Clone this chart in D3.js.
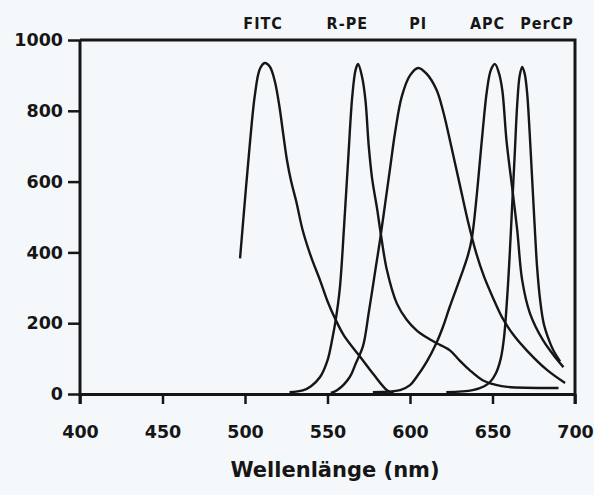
<!DOCTYPE html>
<html>
<head>
<meta charset="utf-8">
<script src="https://cdn.jsdelivr.net/npm/d3@7"></script>
<style>
    body { margin: 0; background: #f5f8fb; }
    svg { display: block; }
</style>
</head>
<body>
<div id="chart"></div>
<script>
// Emissionsspektren (Wellenlänge nm, relative Intensität)
let fitc = [[497,383],[500,550],[503,710],[506,845],[509,918],[512,935],[515,925],[518,885],[521,808],[523,740],[525.5,659],[528,600],[531,545],[535,462],[540,388],[545.5,321],[550,262],[554.5,214],[560,165],[570,104],[578,55],[586,11],[590,2]];
let rpe = [[527,5],[535,10],[540,22],[545.5,48],[550,95],[553,158],[555,210],[557.5,300],[560,470],[562.5,660],[565,840],[567,915],[568.5,932],[571,895],[573,830],[575,700],[577,610],[580,525],[582,462],[586,350],[592,256],[598,210],[604,180],[610,160],[616,144],[624,124],[630,95],[636,68],[644,39],[652,26],[659,20],[690,17]];
let pi = [[552,3],[556,11],[563.5,48],[567,85],[571.5,135],[575,230],[579,350],[582,440],[585,540],[588,640],[591,740],[595,840],[600,900],[605,921],[610,905],[616,860],[620,800],[625,700],[630,595],[635,490],[640,400],[645,330],[650,275],[656,215],[663,165],[671,122],[683,68],[694,31]];
let apc = [[577.5,5],[594,11],[600,25],[604,48],[610,90],[616,144],[620,190],[624,245],[631,335],[635,390],[637.5,440],[640,540],[642.4,659],[644,740],[646.6,856],[649,915],[651.5,932],[654,905],[656,856],[658.5,715],[662,580],[665,462],[668,321],[672.7,228],[680.6,152],[688,104],[693,76]];
let percp = [[622,5],[638,11],[645,22],[648.5,34],[652,58],[655,100],[657,160],[659,280],[660.5,400],[662,540],[663.5,680],[665,820],[666.5,900],[668,924],[669.5,905],[671,850],[672.5,740],[674,610],[675.5,480],[677,360],[679,260],[681,200],[684,155],[687,122],[691,92]];

let seriesNames = ["FITC", "R-PE", "PI", "APC", "PerCP"];
let seriesData = [fitc, rpe, pi, apc, percp];
// Position der Beschriftung über dem Rahmen (nm)
let labelPos = [511, 562, 605, 647, 683];

let xTicks = [400, 450, 500, 550, 600, 650, 700];
let yTicks = [0, 200, 400, 600, 800, 1000];

var width = 594, height = 495;
var svg = d3.select("#chart").append("svg")
    .attr("width", width)
    .attr("height", height);

var x = d3.scaleLinear().domain([400, 700]).range([80, 575]);
var y = d3.scaleLinear().domain([0, 1000]).range([394, 40]);

var ink = "#161616";
var font = "'DejaVu Sans', Verdana, sans-serif";

// Rahmen oben und rechts
svg.append("path")
    .attr("d", "M" + x(400) + "," + y(1000) + "H" + x(700) + "V" + (y(0) + 10))
    .attr("fill", "none")
    .attr("stroke", ink)
    .attr("stroke-width", 3);

var xAxis = svg.append("g")
    .attr("transform", "translate(0," + y(0) + ")")
    .call(d3.axisBottom(x).tickValues(xTicks).tickSize(10).tickSizeOuter(0).tickPadding(22));

var yAxis = svg.append("g")
    .attr("transform", "translate(" + x(400) + ",0)")
    .call(d3.axisLeft(y).tickValues(yTicks).tickFormat(d3.format("d"))
        .tickSize(12).tickSizeOuter(0).tickPadding(5));

[xAxis, yAxis].forEach(function (g) {
    g.select(".domain").attr("stroke", ink).attr("stroke-width", 3);
    g.selectAll(".tick line").attr("stroke", ink).attr("stroke-width", 2.5);
    g.selectAll(".tick text")
        .attr("fill", ink)
        .style("font-family", font)
        .style("font-weight", "bold")
        .style("font-size", "17.5px");
});
// linke Achse bis unter die x-Achse verlängern
yAxis.select(".domain").attr("d", "M0," + y(1000) + "V" + (y(0) + 10));

var line = d3.line()
    .x(function (d) { return x(d[0]); })
    .y(function (d) { return y(d[1]); })
    .curve(d3.curveCatmullRom.alpha(0.5));

svg.selectAll(".spectrum")
    .data(seriesData)
    .enter()
    .append("path")
    .attr("class", "spectrum")
    .attr("d", line)
    .attr("fill", "none")
    .attr("stroke", ink)
    .attr("stroke-width", 2.4)
    .attr("stroke-linejoin", "round");

svg.selectAll(".dye")
    .data(seriesNames)
    .enter()
    .append("text")
    .attr("class", "dye")
    .attr("x", function (d, i) { return x(labelPos[i]); })
    .attr("y", 29)
    .attr("text-anchor", "middle")
    .attr("fill", ink)
    .style("font-family", "'DejaVu Sans Condensed', 'DejaVu Sans', sans-serif")
    .style("font-weight", "bold")
    .style("font-size", "16px")
    .style("letter-spacing", "1px")
    .text(function (d) { return d; });

svg.append("text")
    .attr("x", 335)
    .attr("y", 477)
    .attr("text-anchor", "middle")
    .attr("fill", ink)
    .style("font-family", font)
    .style("font-weight", "bold")
    .style("font-size", "21px")
    .text("Wellenlänge (nm)");
</script>
</body>
</html>
